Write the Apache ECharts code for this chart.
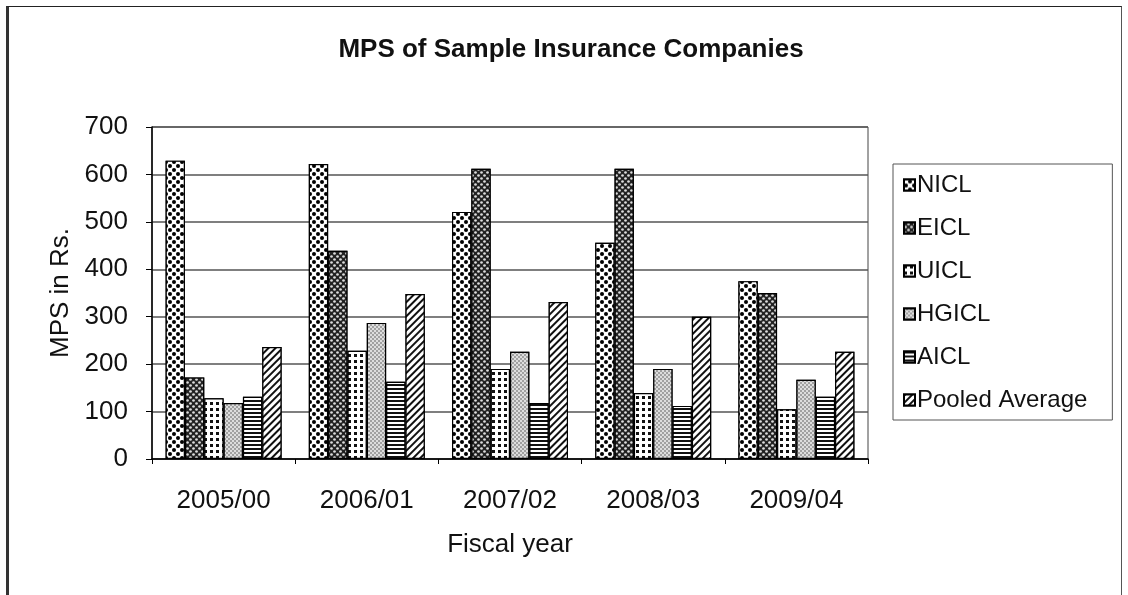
<!DOCTYPE html>
<html>
<head>
<meta charset="utf-8">
<script src="https://cdn.jsdelivr.net/npm/echarts@6/dist/echarts.min.js"></script>
<style>
  html, body { margin: 0; padding: 0; background: #fff; }
  #frame {
    position: absolute; left: 6px; top: 6px; width: 1116px; height: 600px;
    border-left: 3px solid #333; border-top: 1px solid #222; border-right: 1px solid #555;
    box-sizing: border-box;
  }
  #chart { position: absolute; left: 0; top: 0; width: 1128px; height: 595px; }
</style>
</head>
<body>
<div id="frame"></div>
<div id="chart"></div>
<script>
  var years = ['2005/00', '2006/01', '2007/02', '2008/03', '2009/04'];
  var nicl = [629, 622, 521, 456, 375];
  var eicl = [172, 439, 612, 612, 350];
  var uicl = [128, 228, 190, 139, 105];
  var hgicl = [118, 287, 226, 190, 167];
  var aicl = [131, 163, 118, 112, 131];
  var pooled = [236, 348, 331, 300, 226];

  // 填充图案
  var patterns = {
    NICL: { symbol: 'circle', symbolSize: 1, color: '#000', backgroundColor: '#fff', dashArrayX: [[4, 4], [0, 4, 4, 0]], dashArrayY: [4, 0], rotation: 0 },
    EICL: { symbol: 'circle', symbolSize: 0.9, color: '#ddd', backgroundColor: '#222', dashArrayX: [[3, 3], [0, 3, 3, 0]], dashArrayY: [3, 0], rotation: 0 },
    UICL: { symbol: 'rect', symbolSize: 1, color: '#111', backgroundColor: '#fff', dashArrayX: [3, 3], dashArrayY: [3, 3], rotation: 0 },
    HGICL: { symbol: 'circle', symbolSize: 0.8, color: '#555', backgroundColor: '#ddd', dashArrayX: [[2, 2], [0, 2, 2, 0]], dashArrayY: [2, 0], rotation: 0 },
    AICL: { symbol: 'rect', symbolSize: 1, color: '#111', backgroundColor: '#fff', dashArrayX: [8, 0], dashArrayY: [2, 2], rotation: 0 },
    'Pooled Average': { symbol: 'rect', symbolSize: 1, color: '#111', backgroundColor: '#fff', dashArrayX: [8, 0], dashArrayY: [2, 3], rotation: -Math.PI / 4 }
  };

  function makeSeries(name, data) {
    return {
      name: name,
      type: 'bar',
      data: data,
      barGap: '0%',
      barCategoryGap: '19%',
      itemStyle: { color: '#fff', borderColor: '#000', borderWidth: 1.2, decal: patterns[name] }
    };
  }

  var chart = echarts.init(document.getElementById('chart'));
  chart.setOption({
    backgroundColor: 'transparent',
    animation: false,
    title: {
      text: 'MPS of Sample Insurance Companies',
      left: 566, top: 32, textAlign: 'center',
      textStyle: { fontFamily: 'Liberation Sans', fontSize: 26, fontWeight: 'bold', color: '#111' }
    },
    legend: {
      orient: 'vertical',
      left: 893, top: 164,
      padding: [9, 25, 8, 10],
      itemGap: 19,
      itemWidth: 11, itemHeight: 11,
      borderColor: '#555', borderWidth: 1,
      icon: 'rect',
      textStyle: { fontFamily: 'Liberation Sans', fontSize: 24, lineHeight: 24, color: '#111', padding: [0, 0, 0, -3] }
    },
    grid: {
      left: 152, right: 260, top: 127, bottom: 136,
      show: true, borderColor: '#444', borderWidth: 1
    },
    xAxis: {
      type: 'category',
      data: years,
      name: 'Fiscal year',
      nameLocation: 'middle',
      nameGap: 73,
      nameTextStyle: { fontFamily: 'Liberation Sans', fontSize: 26, color: '#111' },
      axisLine: { lineStyle: { color: '#000', width: 1.5 } },
      axisTick: { show: true, length: 5, lineStyle: { color: '#000' } },
      axisLabel: { fontFamily: 'Liberation Sans', fontSize: 26, color: '#111', margin: 29 }
    },
    yAxis: {
      type: 'value',
      min: 0, max: 700, interval: 100,
      name: 'MPS in Rs.',
      nameLocation: 'middle',
      nameGap: 75,
      nameTextStyle: { fontFamily: 'Liberation Sans', fontSize: 26, color: '#111' },
      axisLine: { show: true, lineStyle: { color: '#000', width: 1.5 } },
      axisTick: { show: true, length: 6, lineStyle: { color: '#000' } },
      axisLabel: { fontFamily: 'Liberation Sans', fontSize: 26, color: '#111', margin: 24 },
      splitLine: { lineStyle: { color: '#555', width: 1.5 } }
    },
    series: [
      makeSeries('NICL', nicl),
      makeSeries('EICL', eicl),
      makeSeries('UICL', uicl),
      makeSeries('HGICL', hgicl),
      makeSeries('AICL', aicl),
      makeSeries('Pooled Average', pooled)
    ]
  });
</script>
</body>
</html>
